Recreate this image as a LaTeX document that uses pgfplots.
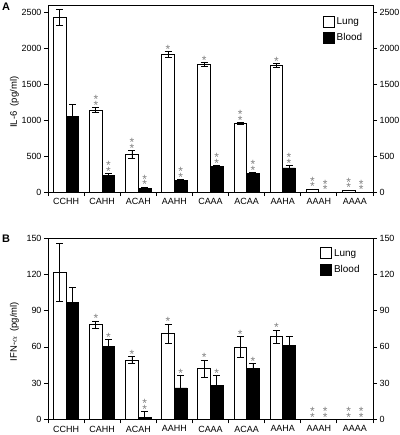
\documentclass[border=0pt]{standalone}
\usepackage{fontspec}
\setmainfont{Liberation Sans}
\usepackage{pgfplots}
\usepackage{pgfplotstable}
\pgfplotsset{compat=1.18}

\pgfplotstableread{
x name l le b be
0 CCHH 2430 110 1050 170
1 CAHH 1140 35 230 25
2 ACAH 520 55 45 22
3 AAHH 1910 45 155 20
4 CAAA 1775 25 355 15
5 ACAA 950 15 255 20
6 AAHA 1760 30 335 35
7 AAAH 37 6 0 0
8 AAAA 23 5 0 0
}\dataA

\pgfplotstableread{
x name l le b be
0 CCHH 122 24 97 12
1 CAHH 78.5 3 60.5 5.5
2 ACAH 49 3 1.5 5
3 AAHH 71 8 26 10
4 CAAA 42 7 28 8
5 ACAA 60 8.5 42 4
6 AAHA 68.5 5.5 61 7.5
7 AAAH 0 0 0 0
8 AAAA 0 0 0 0
}\dataB

\pgfplotsset{
  base/.style={
    scale only axis, width=325bp, xmin=-0.5, xmax=8.5,
    axis line style={line width=0.8bp},
    tick style={line width=0.8bp, black},
    tick align=outside, major tick length=4bp,
    /pgf/number format/assume math mode=true,
    /pgf/number format/1000 sep={},
    tick label style={font=\fontsize{9}{10}\selectfont},
  },
  mainax/.style={
    base,
    xtick={-0.5,0.5,...,8.5}, xticklabels={},
    extra x ticks={0,...,8},
    extra x tick labels={CCHH,CAHH,ACAH,AAHH,CAAA,ACAA,AAHA,AAAH,AAAA},
    extra x tick style={major tick length=0pt, xticklabel style={yshift=-3bp}},
    xtick pos=bottom, ytick pos=left,
    yticklabel style={xshift=1bp},
    legend cell align=left,
    every axis y label/.style={rotate=90, anchor=center, font=\fontsize{9.5}{10}\selectfont},
  },
  rightax/.style={
    base, axis x line=none, axis y line*=right,
    ytick pos=right, yticklabel pos=right,
    yticklabel style={xshift=-1bp},
  },
  errstyle/.style={
    /pgfplots/error bars/y dir=both, /pgfplots/error bars/y explicit,
    /pgfplots/error bars/error bar style={line width=0.8bp, black},
    /pgfplots/error bars/error mark options={rotate=90, mark size=3.5bp, line width=0.8bp, black}},
  lungbar/.style={ybar, bar width=0.35, bar shift=0, draw=black, fill=white, line width=0.8bp, errstyle,
    legend image code/.code={\draw[line width=0.8bp, fill=white] (0bp,-5.5bp) rectangle (11bp,5.5bp);}},
  bloodbar/.style={ybar, bar width=0.35, bar shift=0, draw=black, fill=black, line width=0.8bp, errstyle,
    legend image code/.code={\draw[line width=0.8bp, fill=black] (0bp,-5.5bp) rectangle (11bp,5.5bp);}},
}
\tikzset{st/.style={anchor=south, inner sep=0pt, text=black!50, font=\fontsize{12}{12}\selectfont}}
\newcommand\sone[2]{\node[st,yshift=-2bp] at (axis cs:#1,#2) {*};}
\newcommand\stwo[2]{\node[st,yshift=-2bp] at (axis cs:#1,#2) {\vbox{\offinterlineskip\hbox{*}\vskip-2.6bp\hbox{*}}};}

\begin{document}
\begin{tikzpicture}
\path[use as bounding box] (0,0) rectangle (400bp,-435bp);
\node[anchor=north west, inner sep=0pt, font=\bfseries\fontsize{11}{11}\selectfont] at (2bp,-3bp) {A};
\node[anchor=north west, inner sep=0pt, font=\bfseries\fontsize{11}{11}\selectfont] at (2bp,-235bp) {B};

% Panel A
\begin{axis}[mainax, at={(48bp,-192bp)}, anchor=south west, height=187bp,
  ymin=0, ymax=2600, ytick={0,500,...,2500},
  ylabel={IL-6\ \ (pg/ml)}, ylabel style={at={(axis description cs:-0.103,0.48)}},
  legend style={draw=none, fill=none, at={(rel axis cs:0.836,0.956)}, anchor=north west,
    font=\fontsize{10}{12}\selectfont, row sep=4bp}]
\addplot[lungbar] table[x expr=\thisrow{x}-0.175, y=l, y error=le] {\dataA};
\addlegendentry{Lung}
\addplot[bloodbar] table[x expr=\thisrow{x}+0.175, y=b, y error=be] {\dataA};
\addlegendentry{Blood}
\stwo{0.825}{1175}\stwo{1.175}{255}
\stwo{1.825}{575}\stwo{2.175}{67}
\sone{2.825}{1955}\stwo{3.175}{175}
\sone{3.825}{1800}\stwo{4.175}{370}
\stwo{4.825}{965}\stwo{5.175}{275}
\sone{5.825}{1790}\stwo{6.175}{370}
\stwo{6.825}{43}\stwo{7.175}{0}
\stwo{7.825}{28}\stwo{8.175}{0}
\end{axis}
\begin{axis}[rightax, at={(48bp,-192bp)}, anchor=south west, height=187bp,
  ymin=0, ymax=2600, ytick={0,500,...,2500}]
\end{axis}

% Panel B
\begin{axis}[mainax, at={(48bp,-419.3bp)}, anchor=south west, height=181bp,
  ymin=0, ymax=150, ytick={0,30,...,150},
  ylabel={IFN-$\alpha$\ \ (pg/ml)}, ylabel style={at={(axis description cs:-0.103,0.484)}},
  legend style={draw=none, fill=none, at={(rel axis cs:0.828,0.963)}, anchor=north west,
    font=\fontsize{10}{12}\selectfont, row sep=4bp}]
\addplot[lungbar] table[x expr=\thisrow{x}-0.175, y=l, y error=le] {\dataB};
\addlegendentry{Lung}
\addplot[bloodbar] table[x expr=\thisrow{x}+0.175, y=b, y error=be] {\dataB};
\addlegendentry{Blood}
\sone{0.825}{81.5}\sone{1.175}{66}
\sone{1.825}{52}\stwo{2.175}{6.5}
\sone{2.825}{79}\sone{3.175}{36}
\sone{3.825}{49}\sone{4.175}{36}
\sone{4.825}{68.5}\sone{5.175}{46}
\sone{5.825}{74}
\stwo{6.825}{0}\stwo{7.175}{0}
\stwo{7.825}{0}\stwo{8.175}{0}
\end{axis}
\begin{axis}[rightax, at={(48bp,-419.3bp)}, anchor=south west, height=181bp,
  ymin=0, ymax=150, ytick={0,30,...,150}]
\end{axis}
\end{tikzpicture}
\end{document}
